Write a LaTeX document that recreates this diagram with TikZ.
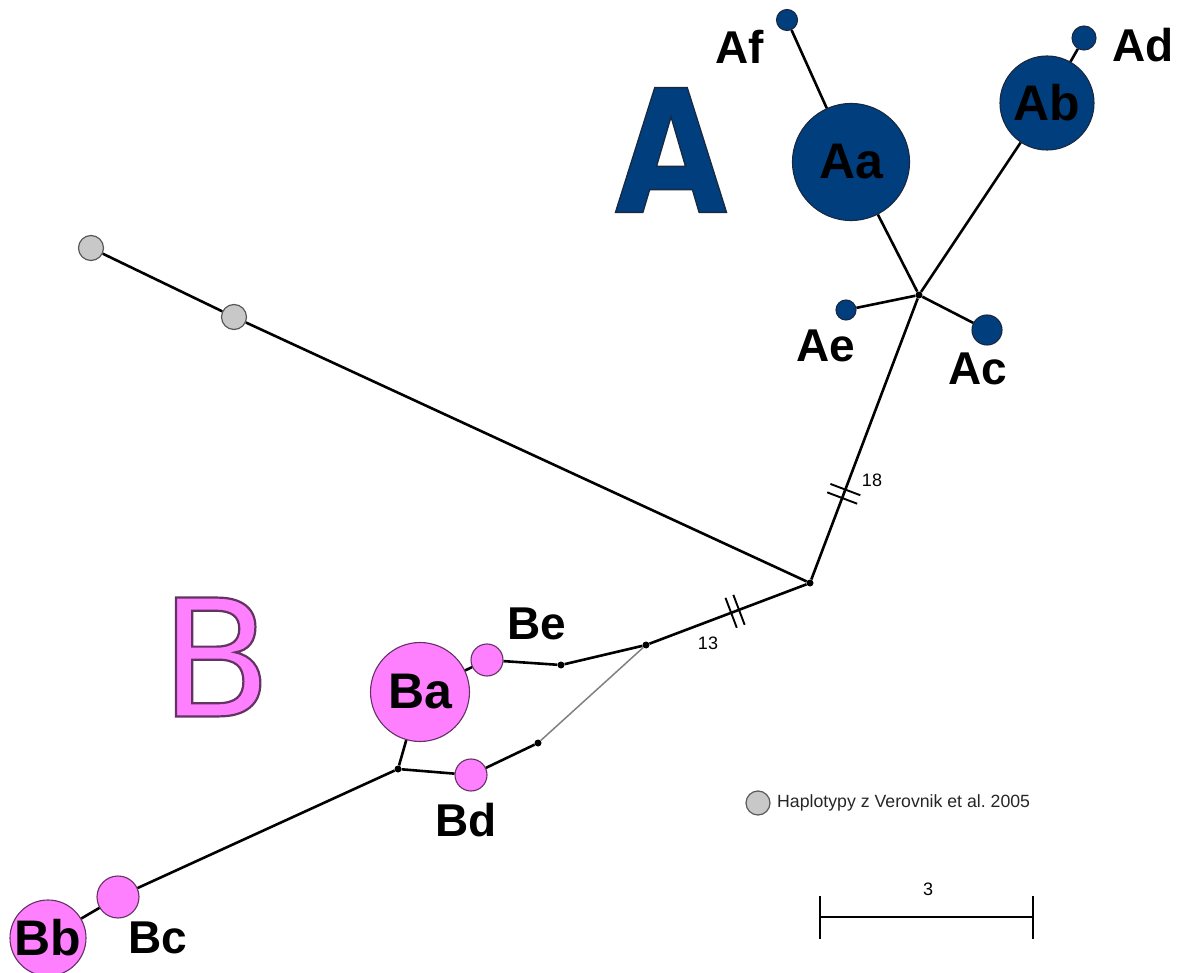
\documentclass[tikz,border=0pt]{standalone}
\usepackage{fontspec}
\setmainfont{Liberation Sans}
\newfontfamily\bigfont{DejaVu Sans}
\usetikzlibrary{calc}
\definecolor{ablue}{RGB}{0,62,126}
\definecolor{bpink}{RGB}{255,128,255}
\definecolor{hgray}{RGB}{200,200,200}
\definecolor{bout}{RGB}{100,50,100}
\definecolor{aout}{RGB}{25,40,65}
\newcommand{\outlinedtext}[3]{\special{pdf:literal direct 2 Tr #1 w #2 RG}#3\special{pdf:literal direct 0 Tr}}
\tikzset{
  hap/.style={circle,draw=black!85,line width=1.1pt,inner sep=0pt,minimum size=#1,
    font=\fontsize{50}{50}\selectfont\bfseries},
  hapA/.style={hap=#1,fill=ablue,draw=aout},
  hapB/.style={hap=#1,fill=bpink,draw=bout},
  hapG/.style={circle,draw=black!65,line width=1.2pt,inner sep=0pt,minimum size=#1,fill=hgray},
  dot/.style={circle,fill=black,inner sep=0pt,minimum size=7pt},
  lab/.style={inner sep=0pt,font=\fontsize{46}{46}\selectfont\bfseries},
  small/.style={inner sep=0pt,font=\fontsize{18}{18}\selectfont},
  edge/.style={line width=2.6pt,black},
  thinedge/.style={line width=1.5pt,black!50},
  brk/.style={line width=1.9pt,black},
  bigA/.style={inner sep=0pt,font=\bigfont\bfseries\fontsize{171}{171}\selectfont},
  bigB/.style={inner sep=0pt,font=\bigfont\fontsize{163}{163}\selectfont},
}
\begin{document}
\frenchspacing
\begin{tikzpicture}[x=1pt,y=-1pt]
\useasboundingbox (0,0) rectangle (1184,973);
% big letters with outline
\node[bigA,text=ablue] (bigAl) at (671,150) {\scalebox{0.85}[1]{\outlinedtext{1.5}{0.1 0.16 0.25}{A}}};
\node[bigB,text=bpink] (bigBl) at (216,657) {\outlinedtext{2.2}{0.39 0.2 0.39}{B}};
% junctions
\node[dot] (JA) at (919,295) {};
\node[dot] (C) at (810,583) {};
\node[dot] (J1) at (646,645) {};
\node[dot] (J2) at (561,665) {};
\node[dot] (J3) at (538,743) {};
\node[dot] (J4) at (398,769) {};
% A haplotypes
\node[hapA=117] (Aa) at (851,162) {Aa};
\node[hapA=94] (Ab) at (1047,103) {Ab};
\node[hapA=30] (Ac) at (987,330) {};
\node[hapA=24] (Ad) at (1084,38) {};
\node[hapA=20] (Ae) at (846,310) {};
\node[hapA=21] (Af) at (787,20) {};
% B haplotypes
\node[hapB=99] (Ba) at (420,692) {Ba};
\node[hapB=76] (Bb) at (48,938) {Bb};
\node[hapB=42] (Bc) at (118,897) {};
\node[hapB=32] (Bd) at (471,775) {};
\node[hapB=32] (Be) at (487,660) {};
% gray haplotypes
\node[hapG=25] (G1) at (91,248) {};
\node[hapG=25] (G2) at (234,317) {};
% labels
\node[lab] (lAf) at (740,47) {Af};
\node[lab] (lAd) at (1143,45) {Ad};
\node[lab] (lAe) at (826,346) {Ae};
\node[lab] (lAc) at (978,369) {Ac};
\node[lab] (lBe) at (537,624) {Be};
\node[lab] (lBd) at (466,820) {Bd};
\node[lab] (lBc) at (158,938) {Bc};
% edges
\draw[edge] (Af) -- (Aa);
\draw[edge] (Aa) -- (JA);
\draw[edge] (Ad) -- (Ab);
\draw[edge] (Ab) -- (JA);
\draw[edge] (Ae) -- (JA);
\draw[edge] (Ac) -- (JA);
\draw[edge] (JA) -- (C);
\draw[edge] (G1) -- (G2);
\draw[edge] (G2) -- (C);
\draw[edge] (C) -- (J1);
\draw[edge] (J1) -- (J2);
\draw[edge] (J2) -- (Be);
\draw[edge] (Be) -- (Ba);
\draw[thinedge] (J1) -- (J3);
\draw[edge] (J3) -- (Bd);
\draw[edge] (Bd) -- (J4);
\draw[edge] (J4) -- (Ba);
\draw[edge] (J4) -- (Bc);
\draw[edge] (Bc) -- (Bb);
% break marks
\path (C) -- (JA) coordinate[pos=0.29] (b18a) coordinate[pos=0.32] (b18b);
\draw[brk] ($(b18a)!16pt!90:(JA)$) -- ($(b18a)!16pt!-90:(JA)$);
\draw[brk] ($(b18b)!16pt!90:(JA)$) -- ($(b18b)!16pt!-90:(JA)$);
\node[small] (n18) at (872,480) {18};
\path (C) -- (J1) coordinate[pos=0.43] (b13a) coordinate[pos=0.48] (b13b);
\draw[brk] ($(b13a)!16pt!90:(J1)$) -- ($(b13a)!16pt!-90:(J1)$);
\draw[brk] ($(b13b)!16pt!90:(J1)$) -- ($(b13b)!16pt!-90:(J1)$);
\node[small] (n13) at (708,643) {13};
% legend
\node[hapG=24] (legc) at (758,803) {};
\node[inner sep=0pt,anchor=west,font=\fontsize{17.7}{18}\selectfont,text=black!85] (legt) at (777,803) {Haplotypy z Verovnik et al.\ 2005};
% scale bar
\coordinate (s1) at (820,917);
\coordinate (s2) at (1033,917);
\draw[line width=2.8pt] (s1) -- (s2);
\draw[line width=2.8pt] ($(s1)+(0,-21)$) -- ($(s1)+(0,22)$);
\draw[line width=2.8pt] ($(s2)+(0,-21)$) -- ($(s2)+(0,22)$);
\node[small] (s3) at (928,889) {3};
\end{tikzpicture}
\end{document}
